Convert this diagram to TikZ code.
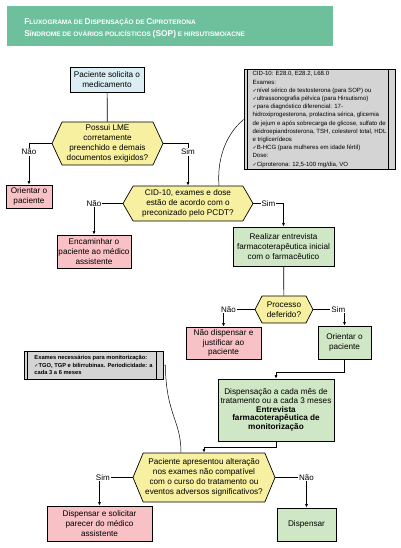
\documentclass[tikz,border=0pt]{standalone}
\usepackage{fontspec}
\setmainfont{Liberation Sans}
\newfontfamily\symfont{DejaVu Sans}
\usetikzlibrary{shapes.symbols,arrows.meta}

\definecolor{titgreen}{RGB}{109,192,155}
\definecolor{boxblue}{RGB}{218,238,243}
\definecolor{boxyellow}{RGB}{246,240,160}
\definecolor{boxpink}{RGB}{248,193,197}
\definecolor{boxgreen}{RGB}{208,231,197}
\definecolor{notegray}{RGB}{212,212,212}

\newcommand{\ck}{{\symfont\fontsize{5}{5}\selectfont ✓}}
\newcommand{\bigc}[1]{{\fontsize{8.4}{11}\selectfont #1}}
\newcommand{\smlc}[1]{{\fontsize{6.5}{11}\selectfont #1}}

\tikzset{
  >={Latex[length=3.5pt,width=3pt]},
  flowbox/.style={draw, rectangle, align=center, inner sep=1pt,
    font=\fontsize{8.2}{9.8}\selectfont},
  startbox/.style={flowbox, fill=boxblue},
  stopbox/.style={flowbox, fill=boxpink},
  gobox/.style={flowbox, fill=boxgreen},
  decision/.style={draw, fill=boxyellow, shape=signal, signal to=east and west,
    align=center, inner sep=1pt, font=\fontsize{8.2}{9.8}\selectfont},
  notebox/.style={draw, fill=notegray, align=left, inner sep=2pt,
    path picture={
      \draw ([xshift=3pt]path picture bounding box.north west) -- ([xshift=3pt]path picture bounding box.south west);
      \draw ([xshift=-7pt]path picture bounding box.north east) -- ([xshift=-7pt]path picture bounding box.south east);
    }},
  lbl/.style={fill=white, inner sep=1pt, font=\fontsize{8}{9}\selectfont},
}

\begin{document}
\begin{tikzpicture}[x=1pt, y=-1pt, line width=0.7pt]
\useasboundingbox (0,0) rectangle (400,548);
% title
\fill[titgreen] (7,6) rectangle (333,46);
\node[anchor=west, text=white, font=\bfseries, align=left, inner sep=0pt] (title) at (24,28)
  {\bigc{F}\smlc{LUXOGRAMA DE }\bigc{D}\smlc{ISPENSAÇÃO DE }\bigc{C}\smlc{IPROTERONA}\\
   \bigc{S}\smlc{ÍNDROME DE OVÁRIOS POLICÍSTICOS }\bigc{(SOP)}\smlc{ E HIRSUTISMO/ACNE}};

% flow
\node[startbox, minimum width=74, minimum height=25] (n1) at (107,79.5) {Paciente solicita o\\medicamento};
\node[decision, minimum width=111, minimum height=43, signal pointer angle=130] (d1) at (107.5,143.5)
  {Possui LME\\corretamente\\preenchido e demais\\documentos exigidos?};
\node[stopbox, minimum width=46, minimum height=23] (n2) at (29,196.5) {Orientar o\\paciente};
\node[decision, minimum width=130, minimum height=35, signal pointer angle=120] (d2) at (188,203.5)
  {CID-10, exames e dose\\estão de acordo com o\\preconizado pelo PCDT?};
\node[stopbox, minimum width=74, minimum height=33] (n3) at (94,251.5) {Encaminhar o\\paciente ao médico\\assistente};
\node[gobox, minimum width=101, minimum height=39] (n4) at (283.5,246.5)
  {Realizar entrevista\\farmacoterapêutica inicial\\com o farmacêutico};
\node[decision, minimum width=58, minimum height=27, signal pointer angle=125] (d3) at (284,309.5) {Processo\\deferido?};
\node[stopbox, minimum width=75, minimum height=32] (n5) at (223.5,343) {Não dispensar e\\justificar ao\\paciente};
\node[gobox, minimum width=53, minimum height=33] (n6) at (344.5,342.5) {Orientar o\\paciente};
\node[gobox, minimum width=116, minimum height=62, font=\fontsize{8.2}{8.6}\selectfont] (n7) at (276,410)
  {Dispensação a cada mês de\\tratamento ou a cada 3 meses\\\textbf{Entrevista}\\\textbf{farmacoterapêutica de}\\\textbf{monitorização}};
\node[decision, minimum width=142, minimum height=49, signal pointer angle=135] (d4) at (204,477.5)
  {Paciente apresentou alteração\\nos exames não compatível\\com o curso do tratamento ou\\eventos adversos significativos?};
\node[stopbox, minimum width=105, minimum height=35] (n8) at (99.5,523.5) {Dispensar e solicitar\\parecer do médico\\assistente};
\node[gobox, minimum width=59, minimum height=33] (n9) at (306.5,524.5) {Dispensar};

% notes
\node[notebox, minimum width=151, minimum height=91, font=\fontsize{6.05}{8.2}\selectfont] (cid) at (319.5,119.5)
  {CID-10: E28.0, E28.2, L68.0\\
   Exames:\\
   \ck nível sérico de testosterona (para SOP) ou\\
   \ck ultrassonografia pélvica (para Hirsutismo)\\
   \ck para diagnóstico diferencial: 17-\\
   hidroxiprogesterona, prolactina sérica, glicemia\\
   de jejum e após sobrecarga de glicose, sulfato de\\
   deidroepiandrosterona, TSH, colesterol total, HDL\\
   e triglicerídeos\\
   \ck B-HCG (para mulheres em idade fértil)\\
   Dose:\\
   \ck Ciproterona: 12,5-100 mg/dia, VO};
\node[notebox, minimum width=139, minimum height=28, font=\fontsize{5.75}{7.6}\selectfont\bfseries] (mon) at (93.5,365)
  {Exames necessários para monitorização:\\
   \ck TGO, TGP e bilirrubinas. Periodicidade: a\\
   cada 3 a 6 meses};

% connectors
\draw (n1) -- (d1);
\draw [->] (d1.west) -| node[lbl, pos=0.6] {Não} (n2.north);
\draw [->] (d1.east) -| node[lbl, pos=0.6] {Sim} (d2.north);
\draw [->] (d2.west) -| node[lbl, pos=0.5] {Não} (n3.north);
\draw [->] (d2.east) -| node[lbl, pos=0.25] {Sim} (n4.north);
\draw (n4) -- (d3);
\draw [->] (d3.west) -| node[lbl, pos=0.42] {Não} (n5.north);
\draw [->] (d3.east) -| node[lbl, pos=0.4] {Sim} (n6.north);
\draw [->] (n6.south) -- ++(0,13) -| (n7.north);
\draw [->] (n7.south) -- ++(0,6) -| (d4.north);
\draw [->] (d4.west) -| node[lbl, pos=0.45] {Sim} (n8.north);
\draw [->] (d4.east) -| node[lbl, pos=0.5] {Não} (n9.north);
\draw [line width=0.5pt] (cid.west) .. controls (225,135) and (217,160) .. ([xshift=31pt]d2.north);
\draw [line width=0.5pt] (mon.east) -- ++(2,0) .. controls (166,415) and (181,420) .. ([xshift=-23pt]d4.north);
\end{tikzpicture}
\end{document}
